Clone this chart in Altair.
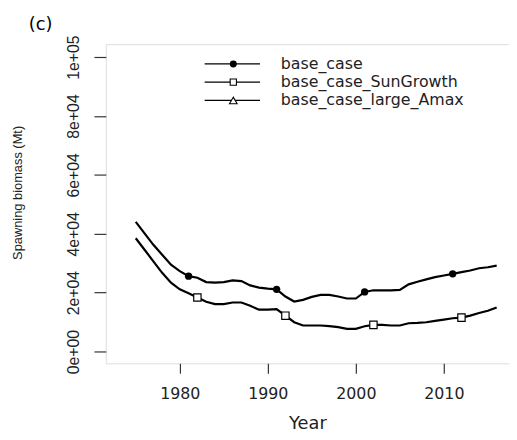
import altair as alt
import pandas as pd

years = list(range(1975, 2017))
base_case = [44070, 40160, 36250, 32890, 29530, 27290, 25610, 25060, 23600, 23380,
             23600, 24160, 23940, 22480, 21700, 21370, 21140, 18680, 17000, 17560,
             18570, 19240, 19240, 18680, 18010, 18010, 20250, 20800, 20800, 20800,
             20920, 22820, 23710, 24500, 25280, 25840, 26400, 26960, 27520, 28300,
             28640, 29200]
sun_growth = [38480, 34570, 30650, 26740, 23380, 21140, 19800, 18350, 16890, 16110,
              16110, 16670, 16670, 15550, 14210, 14210, 14430, 12190, 9960, 8840,
              8840, 8840, 8610, 8280, 7720, 7720, 8610, 9060, 9060, 8840,
              8840, 9620, 9730, 9960, 10400, 10850, 11300, 11520, 12190, 13090,
              13870, 14990]
series_names = ["base_case", "base_case_SunGrowth", "base_case_large_Amax"]
series_shapes = ["circle", "square", "triangle-up"]
series_filled = [True, False, False]
marker_years_base = [1981, 1991, 2001, 2011]
marker_years_sun = [1982, 1992, 2002, 2012]
x_ticks = [1980, 1990, 2000, 2010]
y_ticks = [0, 20000, 40000, 60000, 80000, 100000]
y_tick_labels = ["0e+00", "2e+04", "4e+04", "6e+04", "8e+04", "1e+05"]
panel_label = "(c)"

df = pd.DataFrame({
    "Year": years * 2,
    "value": base_case + sun_growth,
    "series": [series_names[0]] * len(years) + [series_names[1]] * len(years),
})
base_marks = df[(df.series == series_names[0]) & (df.Year.isin(marker_years_base))]
sun_marks = df[(df.series == series_names[1]) & (df.Year.isin(marker_years_sun))]

label_expr = "".join(f"datum.value == {v} ? '{l}' : " for v, l in zip(y_ticks, y_tick_labels)) + "''"

x_scale = alt.Scale(domain=[1971.6, 2017.4], nice=False, zero=False)
y_scale = alt.Scale(domain=[-4000, 104400], nice=False, zero=False)

x_axis = alt.Axis(values=x_ticks, title="Year", format="d", grid=False, domain=False,
                  tickSize=10, tickColor="#333", tickWidth=1.2,
                  labelFont="DejaVu Sans", labelFontSize=16, labelPadding=13, labelColor="#222",
                  titleFont="DejaVu Sans", titleFontSize=18, titleFontWeight="normal",
                  titleY=61, titleBaseline="middle", titleColor="#222")
y_axis = alt.Axis(values=y_ticks, labelExpr=label_expr, title="Spawning biomass (Mt)",
                  grid=False, domain=False, tickSize=12, tickColor="#333", tickWidth=1.2,
                  labelAngle=270, labelAlign="center", labelBaseline="bottom",
                  labelFont="Liberation Sans", labelFontSize=16,
                  labelPadding=13, labelColor="#222",
                  titleFont="Liberation Sans", titleFontSize=13,
                  titleFontWeight="normal", titleAngle=270, titleX=-89, titleY=150,
                  titleBaseline="middle", titleAlign="center", titleColor="#222")

lines = alt.Chart(df).mark_line(color="black", strokeWidth=2.2).encode(
    x=alt.X("Year:Q", scale=x_scale, axis=x_axis),
    y=alt.Y("value:Q", scale=y_scale, axis=y_axis),
    detail="series:N",
)
pts_base = alt.Chart(base_marks).mark_point(shape="circle", filled=True, color="black",
                                            size=55, opacity=1).encode(
    x=alt.X("Year:Q", scale=x_scale), y=alt.Y("value:Q", scale=y_scale))
pts_sun = alt.Chart(sun_marks).mark_point(shape="square", filled=True, fill="white",
                                          stroke="black", strokeWidth=1.2, size=55,
                                          opacity=1).encode(
    x=alt.X("Year:Q", scale=x_scale), y=alt.Y("value:Q", scale=y_scale))

# manual legend (no box)
leg_df = pd.DataFrame({"series": series_names})
legend_layers = []
row_y0, row_step = 20, 18.5
for i, name in enumerate(series_names):
    row = leg_df[leg_df.series == name]
    yv = row_y0 + i * row_step
    legend_layers.append(alt.Chart(row).mark_rule(color="black", strokeWidth=1.3).encode(
        x=alt.value(100), x2=alt.value(156), y=alt.value(yv)))
    if series_filled[i]:
        pm = alt.Chart(row).mark_point(shape=series_shapes[i], filled=True, color="black",
                                       size=50, opacity=1)
    else:
        pm = alt.Chart(row).mark_point(shape=series_shapes[i], filled=True, fill="white",
                                       stroke="black", strokeWidth=1.1,
                                       size=40 if series_shapes[i] == "square" else 60,
                                       opacity=1)
    legend_layers.append(pm.encode(x=alt.value(129), y=alt.value(yv)))
    legend_layers.append(alt.Chart(row).mark_text(align="left", baseline="middle",
                                                  font="DejaVu Sans", fontSize=16,
                                                  color="#222").encode(
        x=alt.value(177), y=alt.value(yv), text="series:N"))

panel = alt.Chart(pd.DataFrame({"t": [panel_label]})).mark_text(
    align="center", baseline="middle", font="DejaVu Sans", fontSize=18, color="black"
).encode(x=alt.value(-66), y=alt.value(-19), text="t:N")

chart = alt.layer(lines, pts_base, pts_sun, *legend_layers, panel).properties(
    width=408, height=323,
    autosize=alt.AutoSizeParams(type="none"),
    padding={"left": 99, "top": 34, "right": 0, "bottom": 74},
).configure_view(stroke="#444", strokeWidth=1.3).configure(background="white")

chart.save("out.html", embed_options={"renderer": "svg", "actions": False})
